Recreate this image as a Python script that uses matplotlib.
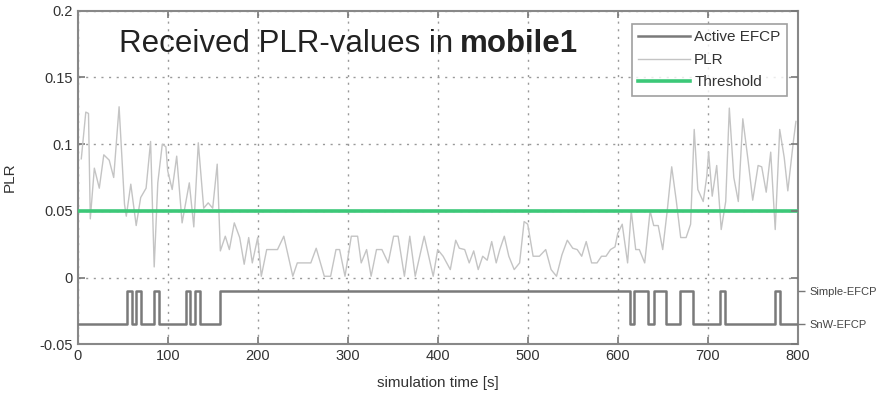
import matplotlib
matplotlib.use("Agg")
import matplotlib.pyplot as plt
from matplotlib.transforms import offset_copy

# ---------------- data ----------------
plr_time = [4, 9, 12, 14, 18.5, 24, 29, 35, 40, 46, 52, 54, 59, 65, 70, 76, 81, 85, 89, 94, 98, 100,
            105, 110, 116, 124, 129, 134, 140, 145, 150, 155, 158.5, 164, 168.5, 174, 180, 185, 190,
            194, 200, 204, 210, 222, 229, 239, 244, 259, 265, 274, 281, 287, 291, 297, 304, 311, 315,
            321, 326, 332, 338, 345, 351, 356, 363, 369, 375, 385, 395, 400, 406, 414, 420, 424, 430,
            435, 440, 445, 450, 455, 460, 465, 469, 474, 479, 485, 491, 496, 500, 506, 513, 520, 526,
            532, 538, 544, 550, 555, 560, 565, 571, 577, 582, 587, 592, 597, 600, 605, 611, 615, 620,
            624, 630, 636, 640, 645, 650, 655, 660, 665, 670, 676, 681, 685, 689, 695, 699, 701, 705,
            710, 715, 720, 724, 729, 734, 739, 745, 750, 756, 760, 765, 770, 775, 780, 785, 789, 795,
            798]
plr_value = [0.089, 0.124, 0.123, 0.044, 0.082, 0.067, 0.092, 0.088, 0.075, 0.128, 0.055, 0.046,
             0.070, 0.039, 0.060, 0.067, 0.102, 0.008, 0.071, 0.100, 0.098, 0.080, 0.066, 0.091,
             0.041, 0.071, 0.038, 0.101, 0.052, 0.056, 0.052, 0.085, 0.020, 0.031, 0.021, 0.041,
             0.030, 0.010, 0.030, 0.011, 0.030, 0.001, 0.021, 0.021, 0.031, 0.001, 0.011, 0.011,
             0.022, 0.001, 0.001, 0.021, 0.021, 0.001, 0.031, 0.031, 0.011, 0.021, 0.001, 0.021,
             0.021, 0.011, 0.031, 0.031, 0.001, 0.031, 0.001, 0.031, 0.001, 0.021, 0.016, 0.006,
             0.028, 0.022, 0.021, 0.011, 0.020, 0.006, 0.016, 0.013, 0.027, 0.011, 0.021, 0.031,
             0.016, 0.006, 0.011, 0.042, 0.040, 0.016, 0.016, 0.021, 0.006, 0.001, 0.017, 0.028,
             0.022, 0.021, 0.016, 0.027, 0.011, 0.011, 0.016, 0.016, 0.021, 0.023, 0.033, 0.040,
             0.011, 0.050, 0.021, 0.021, 0.011, 0.050, 0.039, 0.039, 0.021, 0.050, 0.083, 0.058,
             0.030, 0.030, 0.040, 0.111, 0.066, 0.057, 0.076, 0.094, 0.061, 0.084, 0.036, 0.057,
             0.127, 0.075, 0.057, 0.119, 0.087, 0.058, 0.084, 0.083, 0.064, 0.094, 0.036, 0.111,
             0.090, 0.065, 0.101, 0.117]

efcp_times = [0, 55, 60, 65, 70, 85, 90, 120, 125, 130, 136, 158, 614, 618, 634, 640, 654, 669,
              684, 714, 719, 775, 780, 800]
efcp_states = [0, 1, 0, 1, 0, 1, 0, 1, 0, 1, 0, 1, 0, 1, 0, 1, 0, 1, 0, 1, 0, 1, 0, 0]
efcp_levels = [-0.035, -0.01]          # SnW-EFCP, Simple-EFCP
efcp_labels = ["SnW-EFCP", "Simple-EFCP"]

threshold = 0.05
x_ticks = [0, 100, 200, 300, 400, 500, 600, 700, 800]
y_ticks = [-0.05, 0, 0.05, 0.1, 0.15, 0.2]
y_ticklabels = ["-0.05", "0", "0.05", "0.1", "0.15", "0.2"]

# ---------------- figure ----------------
plt.rcParams['font.family'] = ['Liberation Sans', 'DejaVu Sans']
fig = plt.figure(figsize=(8.92, 3.97), dpi=100)
ax = fig.add_axes([0.0871, 0.1327, 0.8072, 0.8404])

efcp_y = [efcp_levels[s] for s in efcp_states]
l1, = ax.plot(efcp_times, efcp_y, drawstyle='steps-post', color='#7a7a7a', lw=1.8,
              label='Active EFCP', zorder=3)
l2, = ax.plot(plr_time, plr_value, color='#c4c4c4', lw=1.0, label='PLR', zorder=2)
l3, = ax.plot([0, 800], [threshold, threshold], color='#3cc878', lw=2.6, label='Threshold',
              zorder=4)

ax.set_xlim(0, 800)
ax.set_ylim(-0.05, 0.2)
ax.set_xticks(x_ticks)
ax.set_yticks(y_ticks)
ax.set_yticklabels(y_ticklabels)
ax.tick_params(direction='in', length=5, width=1.2, colors='#777777', labelcolor='#333333',
               labelsize=10.5, top=True, right=False)
ax.grid(True, linestyle=(0, (1.5, 4)), color='#999999', lw=1.0)
for sp in ax.spines.values():
    sp.set_color('#888888')
    sp.set_linewidth(1.5)

ax.set_xlabel('simulation time [s]', fontsize=11, color='#333333')
ax.xaxis.set_label_coords(0.5, -0.095)
ax.set_ylabel('PLR', fontsize=11, color='#333333', labelpad=16)

# right-side labels for EFCP states
ax2 = ax.twinx()
ax2.set_ylim(ax.get_ylim())
ax2.set_yticks(efcp_levels)
ax2.set_yticklabels(efcp_labels)
ax2.tick_params(direction='out', length=5, width=1.0, colors='#777777', labelcolor='#444444',
                labelsize=8)
for sp in ax2.spines.values():
    sp.set_visible(False)
ax3 = ax.twinx()
ax3.set_ylim(ax.get_ylim())
ax3.set_yticks(y_ticks)
ax3.set_yticklabels([])
ax3.tick_params(direction='in', length=5, width=1.2, colors='#777777')
for sp in ax3.spines.values():
    sp.set_visible(False)

# title inside axes: normal part + bold part
t1 = ax.text(0.058, 0.9, 'Received PLR-values in', transform=ax.transAxes, fontsize=22.5,
             color='#222222', ha='left', va='center')
fig.canvas.draw()
ext = t1.get_window_extent(renderer=fig.canvas.get_renderer())
x_end_axes = ax.transAxes.inverted().transform((ext.x1, ext.y0))[0]
ax.text(x_end_axes, 0.9, 'mobile1',
        transform=offset_copy(ax.transAxes, fig=fig, x=6, y=0, units='dots'),
        fontsize=22.5, fontweight='bold', color='#222222', ha='left', va='center')

leg = ax.legend(handles=[l1, l2, l3], loc='upper right', bbox_to_anchor=(0.992, 0.975),
                fontsize=11, frameon=True, fancybox=False, edgecolor='#888888',
                handlelength=3.4, handletextpad=0.25, borderpad=0.45, labelspacing=0.55,
                borderaxespad=0.3)
leg.get_frame().set_linewidth(1.2)
for t in leg.get_texts():
    t.set_color('#333333')

fig.savefig('out.png', dpi=100)
